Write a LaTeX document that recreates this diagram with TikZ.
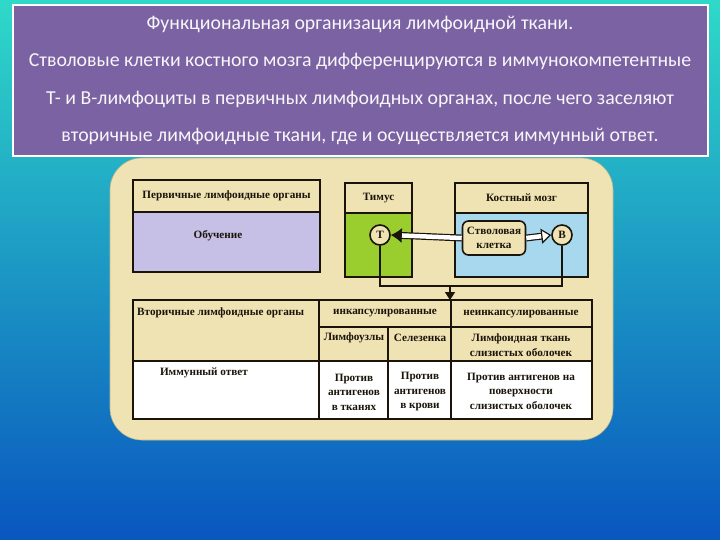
\documentclass[tikz,border=0pt]{standalone}
\usepackage{fontspec}
\setmainfont{Liberation Serif}
\newfontfamily\titlefont{Carlito}
\usetikzlibrary{positioning,arrows.meta,calc}
\definecolor{bgtop}{HTML}{2FD9C9}
\definecolor{bgmid}{HTML}{17ABE2}
\definecolor{bgbot}{HTML}{0956BF}
\definecolor{titlebg}{HTML}{7B62A3}
\definecolor{panel}{HTML}{EFE3B3}
\definecolor{lavender}{HTML}{C6BFE6}
\definecolor{thymus}{HTML}{9ACD2E}
\definecolor{marrow}{HTML}{A8D8EE}
\definecolor{ink}{HTML}{1A140A}

\begin{document}
\begin{tikzpicture}[
  x=1pt, y=-1pt,
  font=\fontsize{11.2}{14.5}\selectfont\bfseries,
  cell/.style={draw=ink, line width=2pt, anchor=north west, inner sep=0pt, outer sep=0pt},
  lbl/.style={text=ink, align=center, inner sep=0pt},
  cellnum/.style={circle, draw=ink, line width=1.6pt, fill=panel, minimum size=20pt, inner sep=0pt, text=ink},
  line/.style={draw=ink, line width=1.6pt},
  hollow/.style={draw=ink, double=white, double distance=4.5pt, line width=1.2pt}
]
\useasboundingbox (0,0) rectangle (720,540);
\shade[top color=bgtop, middle color=bgmid, bottom color=bgbot] (0,0) rectangle (720,540);

% title
\node[draw=white, line width=2pt, fill=titlebg, minimum width=695pt, minimum height=151pt,
      text=white!94!titlebg, align=center, inner sep=0pt,
      font=\titlefont\fontsize{19.8}{37.5}\selectfont] (title) at (360,80.5) {%
  Функциональная организация лимфоидной ткани.\\
  Стволовые клетки костного мозга дифференцируются в иммунокомпетентные\\
  Т- и В-лимфоциты в первичных лимфоидных органах, после чего заселяют\\
  вторичные лимфоидные ткани, где и осуществляется иммунный ответ.};

\node[fill=panel, draw=panel!80!black, line width=0.6pt, rounded corners=32pt,
      minimum width=503pt, minimum height=282pt] (panel) at (361.5,299) {};

% primary organs
\node[cell, fill=panel, minimum width=187pt, minimum height=32pt] (primhead) at (133,180) {};
\node[cell, fill=lavender, minimum width=187pt, minimum height=60pt] (primbody) at (133,212) {};
\node[lbl] (primlbl) at (primhead.center) {Первичные лимфоидные органы};
\node[lbl] (learnlbl) at (218,236) {Обучение};

\node[cell, fill=panel, minimum width=67pt, minimum height=30pt] (thyhead) at (345,183) {};
\node[cell, fill=thymus, minimum width=67pt, minimum height=64pt] (thybody) at (345,213) {};
\node[lbl] at (thyhead.center) {Тимус};

\node[cell, fill=panel, minimum width=133pt, minimum height=30pt] (marhead) at (455,183) {};
\node[cell, fill=marrow, minimum width=133pt, minimum height=64pt] (marbody) at (455,213) {};
\node[lbl] at (marhead.center) {Костный мозг};

\node[cellnum] (T) at (380,235) {Т};
\node[cellnum] (B) at (562,235) {В};
\node[draw=ink, line width=1.6pt, fill=panel, rounded corners=6pt, minimum width=63pt,
      minimum height=34pt, inner sep=1pt, align=center, text=ink] (stem) at (494,238)
      {Стволовая\\клетка};

\draw[hollow, -{Latex[length=11pt, width=15pt, fill=ink]}] (stem.west) -- (T.east);
\draw[hollow, -{Triangle[length=10pt, width=15pt, fill=white]}] (stem.east) -- (B.west);

% secondary organs
\node[cell, fill=panel, minimum width=459pt, minimum height=61pt] (sechead) at (133,300) {};
\node[cell, fill=white, minimum width=459pt, minimum height=58pt] (secbody) at (133,361) {};
\draw[line, line width=2pt] (319,300) -- (319,419);
\draw[line, line width=2pt] (451,300) -- (451,419);
\draw[line, line width=2pt] (388,327) -- (388,419);
\draw[line, line width=2pt] (319,327) -- (592,327);

\coordinate (split) at (450,286);
\draw[line] (T.south) |- (split) -| (B.south);
\draw[line, -{Triangle[length=8pt, width=10pt]}] (split) -- (split |- sechead.north);

\node[lbl, anchor=west] (seclbl) at (137,313) {Вторичные лимфоидные органы};
\node[lbl] (resplbl) at (204,373) {Иммунный ответ};
\node[lbl] (capslbl) at (385,313) {инкапсулированные};
\node[lbl] (ncapslbl) at (521,314) {неинкапсулированные};
\node[lbl] (nodelbl) at (354,338) {Лимфоузлы};
\node[lbl] (spleenlbl) at (420,338) {Селезенка};
\node[lbl] (mucolbl) at (521,345) {Лимфоидная ткань\\слизистых оболочек};
\node[lbl] (tisslbl) at (354,392) {Против\\антигенов\\в тканях};
\node[lbl] (bloodlbl) at (420,392) {Против\\антигенов\\в крови};
\node[lbl] (surflbl) at (521,391) {Против антигенов на\\поверхности\\слизистых оболочек};
\end{tikzpicture}
\end{document}
